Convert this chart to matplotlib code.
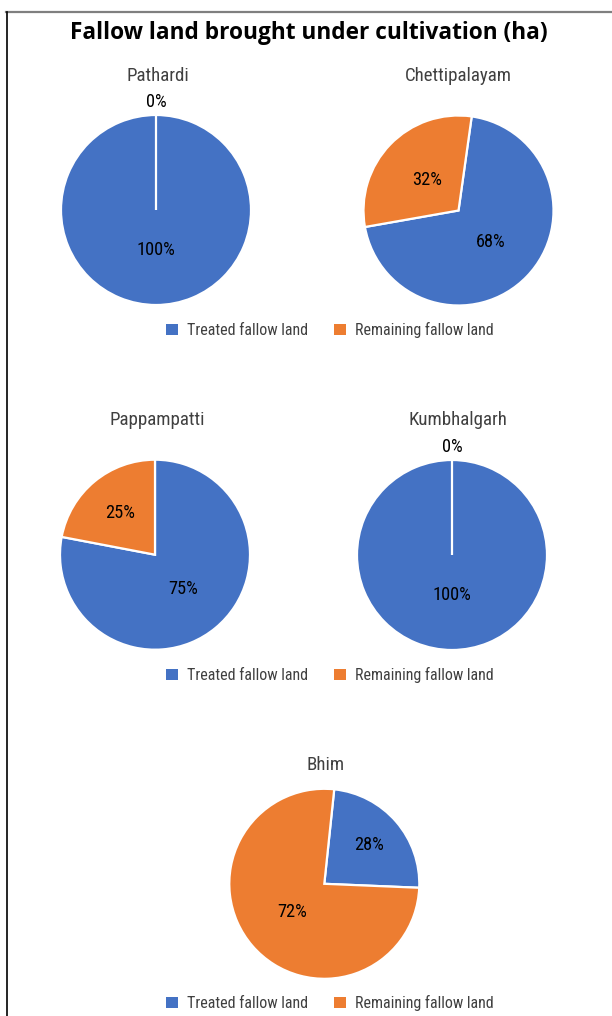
import matplotlib
matplotlib.use("Agg")
import matplotlib.pyplot as plt
from matplotlib import font_manager
from matplotlib.lines import Line2D
from matplotlib.patches import Patch
import numpy as np

# pick a narrow sans font if one is installed
installed = {f.name for f in font_manager.fontManager.ttflist}
narrow = "Lato"
for cand in ["Roboto Condensed", "Liberation Sans Narrow", "Open Sans Condensed"]:
    if cand in installed:
        narrow = cand
        break
plt.rcParams['font.family'] = [narrow, 'DejaVu Sans']

# data
sites = ["Pathardi", "Chettipalayam", "Pappampatti", "Kumbhalgarh", "Bhim"]
# slice sizes as drawn in the picture
treated_share = [100, 70, 78, 100, 24]
remaining_share = [0, 30, 22, 0, 76]
# percentages printed on the slices
treated_pct = [100, 68, 75, 100, 28]
remaining_pct = [0, 32, 25, 0, 72]
series_names = ["Treated fallow land", "Remaining fallow land"]

BLUE = "#4472C4"
ORANGE = "#ED7D31"

W, H = 612, 1016

# layout (pixels): pie centre, radius, start angle, title position, label distances
centres = [(156, 210), (458.5, 210.5), (155, 554.7), (452, 555), (324.3, 883.8)]
RADIUS = 95
start_angles = [90, 82, 90, 90, 84]
title_pos = [(158, 76), (458, 76), (157, 420), (458, 420), (326, 765)]
label_dist = [(0.42, 1.14), (0.47, 0.46), (0.47, 0.57), (0.42, 1.14), (0.62, 0.45)]
legend_y = [330, 675, 1003]


def fx(px):
    return px / W


def fy(py):
    return 1 - py / H


fig = plt.figure(figsize=(W / 100, H / 100), dpi=100)
fig.patch.set_facecolor("white")

fig.text(fx(309), fy(33), "Fallow land brought under cultivation (ha)",
         ha="center", va="center", fontsize=16.3, fontweight="bold",
         family=["Open Sans", "DejaVu Sans"], color="black")

for i, site in enumerate(sites):
    cx, cy = centres[i]
    ax = fig.add_axes([fx(cx - RADIUS), fy(cy + RADIUS), 2 * RADIUS / W, 2 * RADIUS / H])
    wedges, _ = ax.pie([treated_share[i], remaining_share[i]],
                       colors=[BLUE, ORANGE], startangle=start_angles[i],
                       counterclock=False, radius=1,
                       wedgeprops=dict(edgecolor="white", linewidth=1.6))
    ax.set_xlim(-1, 1)
    ax.set_ylim(-1, 1)
    ax.set_aspect("equal")
    ax.axis("off")

    # percentage labels
    for w, pct, d in zip(wedges, [treated_pct[i], remaining_pct[i]], label_dist[i]):
        mid = np.deg2rad((w.theta1 + w.theta2) / 2)
        ax.text(d * np.cos(mid), d * np.sin(mid), f"{pct}%", ha="center", va="center",
                fontsize=13.2, color="black", clip_on=False)

    tx, ty = title_pos[i]
    fig.text(fx(tx), fy(ty), site, ha="center", va="center", fontsize=13.6, color="#404040")

# legends under each row
handles = [Patch(facecolor=BLUE, edgecolor="none"), Patch(facecolor=ORANGE, edgecolor="none")]
for ly in legend_y:
    fig.legend(handles, series_names, loc="center", bbox_to_anchor=(fx(329.5), fy(ly)),
               ncol=2, frameon=False, fontsize=11.5, handlelength=0.75, handleheight=0.75,
               handletextpad=0.56, columnspacing=1.63, labelcolor="#404040")

# outer frame (top and left edges visible)
fig.add_artist(Line2D([fx(6), 1], [fy(12), fy(12)], color="#7f7f7f", linewidth=1.6))
fig.add_artist(Line2D([fx(7), fx(7)], [fy(12), 0], color="black", linewidth=1.2))

fig.savefig("out.png", dpi=100)
